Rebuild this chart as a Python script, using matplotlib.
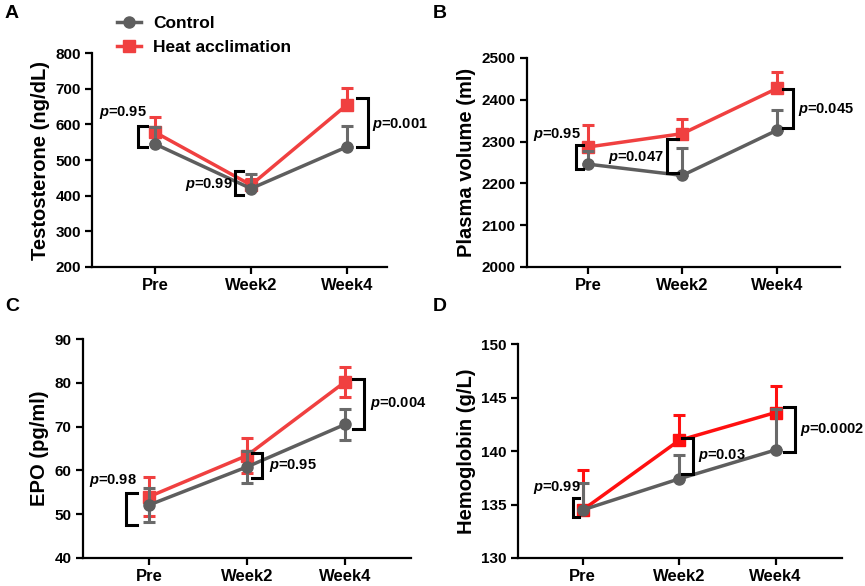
import matplotlib
matplotlib.use("Agg")
import matplotlib.pyplot as plt
from matplotlib.lines import Line2D
import numpy as np

plt.rcParams['font.family'] = ['Liberation Sans', 'DejaVu Sans']
plt.rcParams['font.weight'] = 'bold'
plt.rcParams['mathtext.fontset'] = 'custom'
plt.rcParams['mathtext.it'] = 'Liberation Sans:bold:italic'

categories = ["Pre", "Week2", "Week4"]

# Panel A: Testosterone
testo_ctrl = [545, 420, 537]
testo_ctrl_err = [49, 40, 59]
testo_ha = [578, 430, 655]
testo_ha_err = [42, 18, 48]

# Panel B: Plasma volume
pv_ctrl = [2246, 2219, 2327]
pv_ctrl_err = [31, 66, 49]
pv_ha = [2287, 2319, 2427]
pv_ha_err = [53, 34, 39]

# Panel C: EPO (symmetric error bars)
epo_ctrl = [52.1, 60.8, 70.5]
epo_ctrl_err = [3.9, 3.6, 3.5]
epo_ha = [54.0, 63.4, 80.2]
epo_ha_err = [4.4, 4.1, 3.4]

# Panel D: Hemoglobin
hb_ctrl = [134.5, 137.4, 140.1]
hb_ctrl_err = [2.5, 2.2, 3.8]
hb_ha = [134.5, 141.0, 143.6]
hb_ha_err = [3.7, 2.4, 2.5]

ctrl_color = "#5E5E5E"
ha_color = "#F04040"
ha_color_d = "#FF1010"

fig = plt.figure(figsize=(8.65, 5.86), dpi=100)

axA = fig.add_axes([0.1064, 0.5444, 0.341, 0.365])
axB = fig.add_axes([0.6092, 0.5444, 0.3618, 0.3567])
axC = fig.add_axes([0.0956, 0.0478, 0.3795, 0.3737])
axD = fig.add_axes([0.5988, 0.0478, 0.3746, 0.365])

x = np.arange(len(categories))


def style(ax, ylim, yticks, xlim, ylabel):
    ax.set_ylim(*ylim)
    ax.set_yticks(yticks)
    ax.set_xlim(*xlim)
    ax.set_xticks(x)
    ax.set_xticklabels(categories)
    for s in ["top", "right"]:
        ax.spines[s].set_visible(False)
    for s in ["left", "bottom"]:
        ax.spines[s].set_linewidth(1.6)
    ax.tick_params(width=1.6, length=5, pad=3)
    ax.tick_params(axis='y', labelsize=11)
    ax.tick_params(axis='x', labelsize=12)
    for lab in ax.get_xticklabels() + ax.get_yticklabels():
        lab.set_fontweight('bold')
    ax.set_ylabel(ylabel, fontsize=14.5, fontweight='bold', labelpad=4)


def series(ax, ctrl, ctrl_err, ha, ha_err, symmetric=False, hacol=ha_color):
    if symmetric:
        ye_c = [ctrl_err, ctrl_err]
        ye_h = [ha_err, ha_err]
    else:
        ye_c = [np.zeros(3), ctrl_err]
        ye_h = [np.zeros(3), ha_err]
    ax.errorbar(x, ha, yerr=ye_h, color=hacol, ecolor=hacol, lw=2.5, marker='s',
                ms=8, capsize=4.5, capthick=2.2, elinewidth=2.2, zorder=3)
    ax.errorbar(x, ctrl, yerr=ye_c, color=ctrl_color, ecolor="#6A6A6A", lw=2.5, marker='o',
                ms=8, capsize=4.5, capthick=2.2, elinewidth=2.2, zorder=4)


def bracket(ax, xv, xarm, y0, y1, text, tx, ty, ha):
    ax.plot([xarm, xv, xv, xarm], [y0, y0, y1, y1], color='black', lw=2.2,
            solid_joinstyle='miter', zorder=5, clip_on=False)
    ax.text(tx, ty, r"$p$" + "=" + text, fontsize=10.5, fontweight='bold',
            ha=ha, va='center', zorder=6, clip_on=False)


# A
series(axA, testo_ctrl, testo_ctrl_err, testo_ha, testo_ha_err)
style(axA, (200, 800), [200, 300, 400, 500, 600, 700, 800], (-0.656, 2.417), "Testosterone (ng/dL)")
bracket(axA, -0.177, -0.083, 537, 596, "0.95", -0.33, 634, 'center')
bracket(axA, 0.833, 0.917, 403, 469, "0.99", 0.81, 430, 'right')
bracket(axA, 2.22, 2.1, 537, 675, "0.001", 2.26, 600, 'left')

# B
series(axB, pv_ctrl, pv_ctrl_err, pv_ha, pv_ha_err)
style(axB, (2000, 2500), [2000, 2100, 2200, 2300, 2400, 2500], (-0.645, 2.667), "Plasma volume (ml)")
bracket(axB, -0.13, -0.05, 2235, 2291, "0.95", -0.33, 2317, 'center')
bracket(axB, 0.84, 0.95, 2225, 2305, "0.047", 0.8, 2263, 'right')
bracket(axB, 2.17, 2.06, 2333, 2425, "0.045", 2.22, 2377, 'left')

# C
series(axC, epo_ctrl, epo_ctrl_err, epo_ha, epo_ha_err, symmetric=True)
style(axC, (40, 90), [40, 50, 60, 70, 80, 90], (-0.677, 2.673), "EPO (pg/ml)")
bracket(axC, -0.23, -0.125, 47.6, 54.9, "0.98", -0.37, 57.6, 'center')
bracket(axC, 1.15, 1.05, 58.3, 64.0, "0.95", 1.22, 61.1, 'left')
bracket(axC, 2.195, 2.085, 69.5, 80.8, "0.004", 2.25, 75.2, 'left')

# D
series(axD, hb_ctrl, hb_ctrl_err, hb_ha, hb_ha_err, hacol=ha_color_d)
style(axD, (130, 150), [130, 135, 140, 145, 150], (-0.673, 2.69), "Hemoglobin (g/L)")
bracket(axD, -0.10, -0.04, 133.8, 135.6, "0.99", -0.27, 136.6, 'center')
bracket(axD, 1.14, 1.03, 137.9, 141.25, "0.03", 1.2, 139.6, 'left')
bracket(axD, 2.2, 2.086, 139.9, 144.1, "0.0002", 2.25, 142.0, 'left')

# Legend (in panel A area)
h_ctrl = Line2D([], [], color=ctrl_color, lw=2.5, marker='o', ms=8)
h_ha = Line2D([], [], color=ha_color, lw=2.5, marker='s', ms=8)
fig.legend([h_ctrl, h_ha], ["Control", "Heat acclimation"], loc='upper left',
           bbox_to_anchor=(0.117, 1.0), frameon=False,
           prop={'weight': 'bold', 'size': 12.5}, handlelength=1.4, labelspacing=0.5,
           handletextpad=0.7)

# Panel labels
for lab, (px, py) in zip("ABCD", [(5, 5), (433, 5), (5, 298), (433, 298)]):
    fig.text(px / 865, 1 - py / 586, lab, fontsize=14, fontweight='bold', va='top', ha='left')

fig.savefig("out.png", dpi=100)
